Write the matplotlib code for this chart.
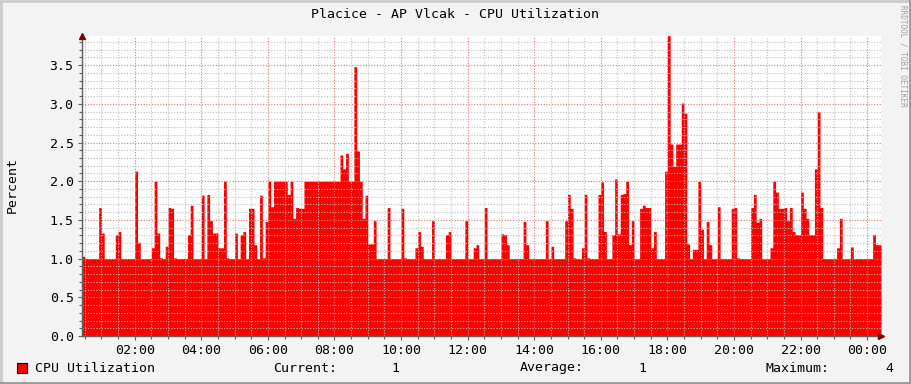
import matplotlib
matplotlib.use("Agg")
import matplotlib.pyplot as plt
import matplotlib.dates as mdates
from matplotlib.lines import Line2D
from matplotlib.patches import Rectangle
from matplotlib.ticker import MultipleLocator, FormatStrFormatter
import numpy as np
import pandas as pd

TITLE = "Placice - AP Vlcak - CPU Utilization"
SERIES = "CPU Utilization"
START = "2024-01-01 00:25"
STEP_MIN = 5

# 5-minute samples (percent)
cpu = [
    1.03, 1.0, 1.0, 1.0, 1.0, 1.0, 1.66, 1.33, 1.0, 1.0, 1.0, 1.0,
    1.31, 1.35, 1.0, 1.0, 1.0, 1.0, 1.0, 2.13, 1.21, 1.0, 1.0, 1.0,
    1.0, 1.14, 2.0, 1.33, 1.01, 1.0, 1.16, 1.66, 1.65, 1.01, 1.0, 1.0,
    1.0, 1.0, 1.31, 1.69, 1.0, 1.0, 1.0, 1.82, 1.0, 1.83, 1.49, 1.33,
    1.33, 1.14, 1.14, 2.0, 1.01, 1.0, 1.0, 1.33, 1.0, 1.31, 1.35, 1.0,
    1.65, 1.65, 1.18, 1.0, 1.82, 1.01, 1.48, 2.0, 1.67, 2.0, 2.0, 2.0,
    2.0, 2.0, 1.83, 2.0, 1.52, 1.66, 1.65, 1.65, 2.0, 2.0, 2.0, 2.0,
    2.0, 2.0, 2.0, 2.0, 2.0, 2.0, 2.0, 2.0, 2.0, 2.34, 2.16, 2.36,
    2.0, 2.0, 3.48, 2.39, 2.0, 1.52, 1.82, 1.19, 1.19, 1.49, 1.0, 1.0,
    1.0, 1.0, 1.66, 1.0, 1.0, 1.0, 1.0, 1.65, 1.01, 1.0, 1.0, 1.0,
    1.14, 1.35, 1.16, 1.0, 1.0, 1.0, 1.49, 1.0, 1.0, 1.0, 1.0, 1.31,
    1.35, 1.0, 1.0, 1.0, 1.0, 1.0, 1.49, 1.0, 1.0, 1.14, 1.18, 1.0,
    1.0, 1.66, 1.0, 1.0, 1.0, 1.0, 1.0, 1.32, 1.31, 1.18, 1.0, 1.0,
    1.0, 1.0, 1.0, 1.48, 1.18, 1.0, 1.0, 1.0, 1.0, 1.0, 1.0, 1.49,
    1.0, 1.16, 1.0, 1.0, 1.0, 1.0, 1.49, 1.83, 1.65, 1.01, 1.0, 1.0,
    1.14, 1.83, 1.01, 1.0, 1.0, 1.0, 1.83, 1.99, 1.35, 1.0, 1.0, 1.31,
    2.03, 1.32, 1.83, 1.84, 2.0, 1.18, 1.49, 1.0, 1.0, 1.65, 1.69, 1.66,
    1.66, 1.14, 1.35, 1.0, 1.0, 1.0, 2.13, 3.88, 2.48, 2.19, 2.48, 2.48,
    3.01, 2.88, 1.19, 1.0, 1.12, 1.12, 2.0, 1.38, 1.0, 1.48, 1.18, 1.0,
    1.0, 1.67, 1.0, 1.0, 1.0, 1.0, 1.65, 1.66, 1.01, 1.0, 1.0, 1.0,
    1.0, 1.66, 1.83, 1.47, 1.52, 1.0, 1.0, 1.0, 1.14, 2.0, 1.86, 1.65,
    1.65, 1.66, 1.49, 1.66, 1.35, 1.31, 1.31, 1.86, 1.65, 1.52, 1.31, 1.31,
    2.16, 2.9, 1.66, 1.0, 1.0, 1.0, 1.0, 1.0, 1.14, 1.52, 1.0, 1.0,
    1.0, 1.15, 1.0, 1.0, 1.0, 1.0, 1.0, 1.0, 1.0, 1.31, 1.18, 1.18,
]

vals = np.array(cpu)
t = pd.date_range(START, periods=len(vals) + 1, freq=f"{STEP_MIN}min")
yy = np.append(vals, vals[-1])

MONO = "DejaVu Sans Mono"
FS = 9.5
BG = "#f3f3f3"

W, H = 911, 384
fig = plt.figure(figsize=(W / 100, H / 100), dpi=100, facecolor=BG)
ax = fig.add_axes([82 / W, (H - 336) / H, (881 - 82) / W, (336 - 35.7) / H])
ax.set_facecolor("white")

ax.fill_between(t, 0, yy, step="post", color="#ff0000", lw=0, zorder=2)

ax.set_xlim(t[0], t[-1])
ax.set_ylim(0, vals.max())

ax.xaxis.set_major_locator(mdates.HourLocator(byhour=range(0, 24, 2)))
ax.xaxis.set_minor_locator(mdates.MinuteLocator(byminute=[0, 30]))
ax.xaxis.set_major_formatter(mdates.DateFormatter("%H:%M"))
ax.yaxis.set_major_locator(MultipleLocator(0.5))
ax.yaxis.set_minor_locator(MultipleLocator(0.1))
ax.yaxis.set_major_formatter(FormatStrFormatter("%.1f"))

# light grid on top of the area (faint pinkish over red, like rrdtool)
ax.grid(which="minor", color=(0.75, 0.75, 0.75, 0.28), ls=(0, (1, 1.5)), lw=0.8, zorder=3)
ax.grid(which="major", color=(0.9, 0.45, 0.45, 0.4), ls=(0, (1, 1.5)), lw=0.8, zorder=3)
ax.set_axisbelow(False)

for s in ["top", "right"]:
    ax.spines[s].set_visible(False)
for s in ["left", "bottom"]:
    ax.spines[s].set_color("#606060")
    ax.spines[s].set_linewidth(1.0)
    ax.spines[s].set_zorder(4)

ax.tick_params(which="both", direction="out", colors="#606060", labelcolor="black",
               labelsize=FS, width=0.8)
ax.tick_params(which="major", length=3, pad=3)
ax.tick_params(which="minor", length=2)
for lab in ax.get_xticklabels() + ax.get_yticklabels():
    lab.set_fontfamily(MONO)

# axis arrows
ax.plot([0], [1.0], marker="^", ms=5, color="#7f0000", transform=ax.transAxes,
        clip_on=False, zorder=5, mec="#7f0000")
ax.plot([1.0], [0], marker=">", ms=5, color="#7f0000", transform=ax.transAxes,
        clip_on=False, zorder=5, mec="#7f0000")

fig.text(455 / W, 1 - 14 / H, TITLE, ha="center", va="center", family=MONO, fontsize=FS)
fig.text(12 / W, 1 - 185 / H, "Percent", ha="center", va="center", rotation=90,
         family=MONO, fontsize=FS)
fig.text(903 / W, 1 - 5 / H, "RRDTOOL / TOBI OETIKER", ha="center", va="top",
         rotation=270, family=MONO, fontsize=5.5, color="#a0a0a0")

# legend row
ly = 1 - 368 / H
fig.patches.append(Rectangle((17 / W, 1 - 373 / H), 10 / W, 10 / H, transform=fig.transFigure,
                             facecolor="#ff0000", edgecolor="black", lw=0.8))
fig.text(35 / W, ly, SERIES, va="center", family=MONO, fontsize=FS)
stats = [("Current:", vals[-1], 273, 399), ("Average:", vals.mean(), 520, 646),
         ("Maximum:", vals.max(), 765, 893)]
for name, v, xl, xv in stats:
    fig.text(xl / W, ly, name, va="center", family=MONO, fontsize=FS)
    fig.text(xv / W, ly, f"{v:.0f}", va="center", ha="right", family=MONO, fontsize=FS)

# 3D frame
fig.add_artist(Line2D([0, 1], [1 - 1 / H, 1 - 1 / H], transform=fig.transFigure, color="#cbcbcb", lw=2))
fig.add_artist(Line2D([1 / W, 1 / W], [0, 1], transform=fig.transFigure, color="#cbcbcb", lw=2))
fig.add_artist(Line2D([0, 1], [1 / H, 1 / H], transform=fig.transFigure, color="#999999", lw=2))
fig.add_artist(Line2D([1 - 1 / W, 1 - 1 / W], [0, 1], transform=fig.transFigure, color="#999999", lw=2))

fig.savefig("out.png", dpi=100, facecolor=BG)
